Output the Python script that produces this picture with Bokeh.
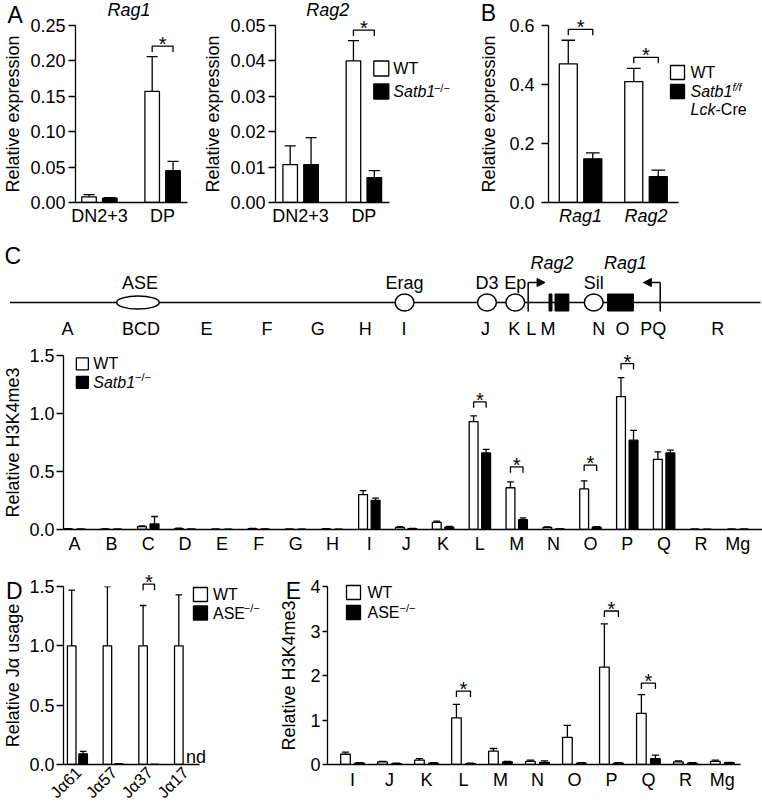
import numpy as np
from bokeh.plotting import figure
from bokeh.models import Range1d, FixedTicker, NumeralTickFormatter, Arrow, NormalHead
from bokeh.layouts import row, column
from bokeh.embed import file_html
from bokeh.resources import INLINE
from bokeh.core.properties import value

FONT = "Liberation Sans"
LW = 1.3
NAN = float("nan")

# ---------------- data ----------------
# A: Rag1 / Rag2 expression (WT vs Satb1-/-), upper error-bar ends in *_hi
a_groups   = ["DN2+3", "DP"]
rag1_wt    = [0.008, 0.157]
rag1_wt_hi = [0.011, 0.206]
rag1_ko    = [0.006, 0.045]
rag1_ko_hi = [0.007, 0.058]
rag1_sig   = [1]
rag1_sig_y = [0.221]

rag2_wt    = [0.0107, 0.0400]
rag2_wt_hi = [0.0160, 0.0457]
rag2_ko    = [0.0107, 0.0070]
rag2_ko_hi = [0.0183, 0.0090]
rag2_sig   = [1]
rag2_sig_y = [0.0487]

# B: WT vs Satb1 f/f Lck-Cre
b_genes = ["Rag1", "Rag2"]
b_wt    = [0.47, 0.41]
b_wt_hi = [0.55, 0.455]
b_ko    = [0.148, 0.088]
b_ko_hi = [0.168, 0.110]
b_sig   = [0, 1]
b_sig_y = [0.587, 0.492]

# C: H3K4me3 along the locus, WT vs Satb1-/-
c_regions = ["A", "B", "C", "D", "E", "F", "G", "H", "I", "J",
             "K", "L", "M", "N", "O", "P", "Q", "R", "Mg"]
c_wt    = [0.005, 0.004, 0.025, 0.008, 0.003, 0.007, 0.002, 0.005, 0.30, 0.018,
           0.062, 0.93, 0.36, 0.018, 0.35, 1.145, 0.605, 0.002, 0.002]
c_wt_hi = [0.007, 0.006, 0.030, 0.011, 0.004, 0.009, 0.003, 0.007, 0.335, 0.024,
           0.072, 0.98, 0.41, 0.022, 0.42, 1.31, 0.67, 0.003, 0.003]
c_ko    = [0.002, 0.002, 0.048, 0.003, 0.001, 0.004, 0.001, 0.001, 0.25, 0.008,
           0.020, 0.66, 0.085, 0.005, 0.020, 0.77, 0.66, 0.001, 0.003]
c_ko_hi = [0.003, 0.003, 0.112, 0.004, 0.002, 0.005, 0.002, 0.002, 0.27, 0.010,
           0.026, 0.69, 0.10, 0.006, 0.025, 0.855, 0.685, 0.002, 0.004]
c_sig   = [11, 12, 14, 15]
c_sig_y = [1.10, 0.54, 0.555, 1.43]

# C locus schematic (positions along the drawn locus)
locus_x    = [4, 760]
ase_x      = [133]
enh_names  = ["Erag", "D3", "Ep", "Sil"]
enh_x      = [401.5, 484.5, 513, 592]
exon_left  = [547, 553, 606]
exon_right = [550, 567, 632]
prom_x     = [526, 659]
prom_tip   = [543, 642]
gene_names = ["Rag2", "Rag1"]
gene_x     = [550, 624]
site_names = ["A", "BCD", "E", "F", "G", "H", "I", "J", "K", "L", "M", "N", "O", "PQ", "R"]
site_x     = [62, 136, 202, 263, 314, 362, 401, 483, 512, 529, 546, 597, 621, 652, 717]

# D: relative J-alpha usage, WT vs ASE-/-
d_ja    = ["J\u03b161", "J\u03b157", "J\u03b137", "J\u03b117"]
d_wt    = [1.0, 1.0, 1.0, 1.0]
d_wt_hi = [1.47, 1.50, 1.34, 1.43]
d_ko    = [0.09, 0.005, 0.0, NAN]
d_ko_hi = [0.11, 0.008, 0.0, NAN]
d_sig   = [2]
d_sig_y = [1.52]

# E: H3K4me3, WT vs ASE-/-
e_regions = ["I", "J", "K", "L", "M", "N", "O", "P", "Q", "R", "Mg"]
e_wt    = [0.23, 0.06, 0.10, 1.05, 0.30, 0.07, 0.61, 2.19, 1.15, 0.06, 0.07]
e_wt_hi = [0.28, 0.07, 0.13, 1.35, 0.36, 0.10, 0.88, 3.16, 1.57, 0.08, 0.10]
e_ko    = [0.03, 0.02, 0.03, 0.02, 0.06, 0.05, 0.03, 0.03, 0.13, 0.03, 0.04]
e_ko_hi = [0.04, 0.03, 0.04, 0.03, 0.07, 0.08, 0.04, 0.04, 0.21, 0.04, 0.05]
e_sig   = [3, 7, 8]
e_sig_y = [1.65, 3.45, 1.83]


# ---------------- helpers ----------------
class Panel:
    """A figure plus the page position of its plotting frame."""

    def __init__(self, left, top, width, height, bl, br, bt, bb, xr, yr, axes=True):
        kw = dict(width=width, height=height, x_range=Range1d(*xr), y_range=Range1d(*yr),
                  min_border_left=bl, min_border_right=br, min_border_top=bt,
                  min_border_bottom=bb, output_backend="svg", toolbar_location=None,
                  tools="")
        if not axes:
            kw.update(x_axis_type=None, y_axis_type=None)
        p = figure(**kw)
        p.outline_line_color = None
        for g in p.grid:
            g.visible = False
        p.background_fill_color = "white"
        p.border_fill_color = "white"
        self.p = p
        self.L = left + bl
        self.R = left + width - br
        self.T = top + bt
        self.B = top + height - bb
        self.xr = xr
        self.yr = yr

    def data(self, X, Y):
        x0, x1 = self.xr
        y0, y1 = self.yr
        return (x0 + (X - self.L) / (self.R - self.L) * (x1 - x0),
                y0 + (self.B - Y) / (self.B - self.T) * (y1 - y0))

    def px_per_x(self):
        return (self.R - self.L) / (self.xr[1] - self.xr[0])

    def px_per_y(self):
        return (self.B - self.T) / (self.yr[1] - self.yr[0])

    def text(self, X, Y, s, size="16px", style="normal", align="left", baseline="middle"):
        xd, yd = self.data(X, Y)
        self.p.text(x=[xd], y=[yd], text=[s], text_align=align, text_baseline=baseline,
                    text_font=value(FONT), text_font_size=size, text_font_style=style,
                    text_color="black", level="overlay")

    def key(self, Xc, Yc, g, fill):
        xd, yd = self.data(Xc, Yc)
        self.p.scatter(x=[xd], y=[yd], marker="square", size=g, fill_color=fill,
                       line_color="black", line_width=LW, level="overlay")


def style_y(p, ticks, fmt, label, tick_out, standoff, als):
    ax = p.yaxis[0]
    ax.ticker = FixedTicker(ticks=ticks)
    ax.formatter = NumeralTickFormatter(format=fmt)
    ax.axis_label = label
    ax.axis_label_text_font = FONT
    ax.axis_label_text_font_size = "18px"
    ax.axis_label_text_font_style = "normal"
    ax.axis_label_text_color = "black"
    ax.axis_label_standoff = als
    ax.major_label_text_font = FONT
    ax.major_label_text_font_size = "18px"
    ax.major_label_text_color = "black"
    ax.major_label_standoff = standoff
    ax.major_tick_out = tick_out
    ax.major_tick_in = 0
    ax.minor_tick_out = 0
    ax.minor_tick_in = 0
    ax.axis_line_width = LW
    ax.major_tick_line_width = LW
    ax.axis_line_color = "black"
    ax.major_tick_line_color = "black"


def style_x(p, labels, standoff, italic=False, size="18px"):
    ax = p.xaxis[0]
    ax.ticker = FixedTicker(ticks=list(range(len(labels))))
    ax.major_label_overrides = {i: lab for i, lab in enumerate(labels)}
    ax.major_tick_out = 0
    ax.major_tick_in = 0
    ax.minor_tick_out = 0
    ax.minor_tick_in = 0
    ax.major_tick_line_color = None
    ax.major_label_standoff = standoff
    ax.major_label_text_font = FONT
    ax.major_label_text_font_size = size
    ax.major_label_text_color = "black"
    ax.major_label_text_font_style = "italic" if italic else "normal"
    ax.axis_line_width = LW
    ax.axis_line_color = "black"


def draw_bars(p, wt, wt_hi, ko, ko_hi, bw, off):
    n = len(wt)
    xw = np.arange(n) - off
    xk = np.arange(n) + off
    p.vbar(x=xw, top=np.array(wt, float), bottom=0, width=bw,
           fill_color="white", line_color="black", line_width=LW)
    p.vbar(x=xk, top=np.array(ko, float), bottom=0, width=bw,
           fill_color="black", line_color="black", line_width=LW)
    ex = np.concatenate([xw, xk])
    elo = np.array(list(wt) + list(ko), float)
    ehi = np.array(list(wt_hi) + list(ko_hi), float)
    p.segment(x0=ex, y0=elo, x1=ex, y1=ehi, line_color="black", line_width=LW)
    cw = bw * 0.38
    p.segment(x0=ex - cw, y0=ehi, x1=ex + cw, y1=ehi, line_color="black", line_width=LW)


def draw_sig(pan, idx, ytop, off):
    ppu = pan.px_per_y()
    tip = 6.0 / ppu
    xs, ys, sx, sy = [], [], [], []
    for i, yt in zip(idx, ytop):
        xs.append([i - off, i - off, i + off, i + off])
        ys.append([yt - tip, yt, yt, yt - tip])
        sx.append(i)
        sy.append(yt + 2.0 / ppu)
    pan.p.multi_line(xs=xs, ys=ys, line_color="black", line_width=LW, level="overlay")
    pan.p.text(x=sx, y=sy, text=["*"] * len(sx), text_align="center",
               text_baseline="middle", text_font=value(FONT), text_font_size="20px",
               text_color="black", level="overlay")


def legend(pan, Xc, Y1, Y2, g, Xt, lab1, lab2, italic2):
    pan.key(Xc, Y1, g, "white")
    pan.key(Xc, Y2, g, "black")
    pan.text(Xt, Y1, lab1)
    pan.text(Xt, Y2, lab2, style="italic" if italic2 else "normal")


SUP = "\u2212/\u2212"

# ---------------- row 1: A (Rag1, Rag2) and B ----------------
A1 = Panel(0, 0, 200, 228, 70, 13, 25, 26, (-0.379, 1.394), (0, 0.25))
style_y(A1.p, [0, 0.05, 0.10, 0.15, 0.20, 0.25], "0.00", "Relative expression", 7, 3, 4)
style_x(A1.p, a_groups, 3)
draw_bars(A1.p, rag1_wt, rag1_wt_hi, rag1_ko, rag1_ko_hi, 0.23, 0.165)
draw_sig(A1, rag1_sig, rag1_sig_y, 0.165)
A1.text(126, 9, "Rag1", size="18px", style="italic", align="center")
A1.text(7, 14, "A", size="23px", align="center")

A2 = Panel(200, 0, 270, 228, 71, 81, 25, 26, (-0.397, 1.405), (0, 0.05))
style_y(A2.p, [0, 0.01, 0.02, 0.03, 0.04, 0.05], "0.00", "Relative expression", 7, 3, 4)
style_x(A2.p, a_groups, 3)
draw_bars(A2.p, rag2_wt, rag2_wt_hi, rag2_ko, rag2_ko_hi, 0.23, 0.165)
draw_sig(A2, rag2_sig, rag2_sig_y, 0.165)
A2.text(325, 9, "Rag2", size="18px", style="italic", align="center")
legend(A2, 380.5, 68, 91, 15, 393, "WT", "Satb1", True)
A2.text(435, 87, SUP, size="11px")

B = Panel(470, 0, 292, 228, 78, 84, 25, 26, (-0.489, 1.496), (0, 0.6))
style_y(B.p, [0, 0.2, 0.4, 0.6], "0.0", "Relative expression", 7, 7, 7)
style_x(B.p, b_genes, 3, italic=True)
draw_bars(B.p, b_wt, b_wt_hi, b_ko, b_ko_hi, 0.275, 0.187)
draw_sig(B, b_sig, b_sig_y, 0.187)
B.text(488, 12, "B", size="23px", align="center")
legend(B, 677, 72, 91, 14, 690, "WT", "Satb1", True)
B.text(732, 86, "f/f", size="11px", style="italic")
B.text(690, 109, "Lck", style="italic")
B.text(715, 109, "-Cre")

# ---------------- row 2: locus schematic (page coordinates) ----------------
LOCUS_Y, LABEL_Y, GENE_Y, SITE_Y, PROM_BOTTOM = 302, 282, 262, 328, 311
DG = Panel(0, 228, 762, 112, 58, 0, 0, 0, (58, 762), (340, 228), axes=False)
pd = DG.p
OV = dict(level="overlay")
pd.segment(x0=[locus_x[0]], y0=[LOCUS_Y], x1=[locus_x[1]], y1=[LOCUS_Y],
           line_color="black", line_width=1.5, **OV)
pd.quad(left=exon_left, right=exon_right, top=[LOCUS_Y - 8.5] * len(exon_left),
        bottom=[LOCUS_Y + 8.5] * len(exon_left), fill_color="black", line_color="black", **OV)
pd.segment(x0=prom_x, y0=[PROM_BOTTOM] * 2, x1=prom_x, y1=[LABEL_Y] * 2,
           line_color="black", line_width=1.5, **OV)
for xs0, xs1 in zip(prom_x, prom_tip):
    pd.add_layout(Arrow(x_start=xs0, y_start=LABEL_Y, x_end=xs1, y_end=LABEL_Y,
                        line_width=1.5, line_color="black",
                        end=NormalHead(size=8, fill_color="black", line_color="black",
                                       line_width=1)))
pd.ellipse(x=ase_x, y=[LOCUS_Y], width=43, height=13, fill_color="white",
           line_color="black", line_width=1.5, **OV)
pd.ellipse(x=enh_x, y=[LOCUS_Y] * len(enh_x), width=19, height=17, fill_color="white",
           line_color="black", line_width=1.5, **OV)
pd.text(x=[135] + enh_x, y=[LABEL_Y] * 5, text=["ASE"] + enh_names, text_align="center",
        text_baseline="middle", text_font=value(FONT), text_font_size="18px",
        text_color="black", **OV)
pd.text(x=gene_x, y=[GENE_Y] * 2, text=gene_names, text_align="center",
        text_baseline="middle", text_font=value(FONT), text_font_size="18px",
        text_font_style="italic", text_color="black", **OV)
pd.text(x=site_x, y=[SITE_Y] * len(site_x), text=site_names, text_align="center",
        text_baseline="middle", text_font=value(FONT), text_font_size="18px",
        text_color="black", **OV)
DG.text(7, 255, "C", size="23px", align="center")

# ---------------- row 3: C chart ----------------
C = Panel(0, 340, 762, 216, 58, 0, 15, 26, (-0.3, 18.67), (0, 1.5))
style_y(C.p, [0, 0.5, 1.0, 1.5], "0.0", "Relative H3K4me3", 7, 2, 3)
style_x(C.p, c_regions, 4)
draw_bars(C.p, c_wt, c_wt_hi, c_ko, c_ko_hi, 0.24, 0.17)
draw_sig(C, c_sig, c_sig_y, 0.17)
legend(C, 77, 363.5, 382, 12, 88, "WT", "Satb1", True)
C.text(130, 377, SUP, size="11px")

# ---------------- row 4: D and E ----------------
D = Panel(0, 556, 270, 249, 58, 71, 30, 41, (-0.39, 3.42), (0, 1.5))
style_y(D.p, [0, 0.5, 1.0, 1.5], "0.0", "Relative J\u03b1 usage", 7, 2, 3)
style_x(D.p, [""] * len(d_ja), 0, size="1px")
draw_bars(D.p, d_wt, d_wt_hi, d_ko, d_ko_hi, 0.24, 0.16)
draw_sig(D, d_sig, d_sig_y, 0.16)
# slanted J-alpha tick labels, right end just below each group
_, lab_y = D.data(0, 769)
D.p.text(x=np.arange(len(d_ja)) + 1.0 / D.px_per_x(), y=[lab_y] * len(d_ja), text=d_ja,
         angle=np.pi / 4, text_align="right", text_baseline="middle",
         text_font=value(FONT), text_font_size="16.5px", text_color="black",
         level="overlay")
for i, v in enumerate(d_ko):
    if np.isnan(v):
        D.text(185 + (i - 3) * 37, 756, "nd", size="18px", baseline="alphabetic")
D.text(7, 590, "D", size="23px", align="center")
legend(D, 200, 594, 612.5, 14, 213, "WT", "ASE", False)
D.text(245, 607, SUP, size="11px")

E = Panel(270, 556, 492, 249, 57, 22, 30, 41, (-0.676, 10.49), (0, 4))
style_y(E.p, [0, 1, 2, 3, 4], "0", "Relative H3K4me3", 5, 2, 8)
style_x(E.p, e_regions, 5)
draw_bars(E.p, e_wt, e_wt_hi, e_ko, e_ko_hi, 0.26, 0.19)
draw_sig(E, e_sig, e_sig_y, 0.19)
E.text(293, 590, "E", size="23px", align="center")
legend(E, 353, 592, 612, 14, 367, "WT", "ASE", False)
E.text(399, 607, SUP, size="11px")

layout = column(row(A1.p, A2.p, B.p), DG.p, C.p, row(D.p, E.p))
open("out.html", "w").write(file_html(layout, INLINE))
